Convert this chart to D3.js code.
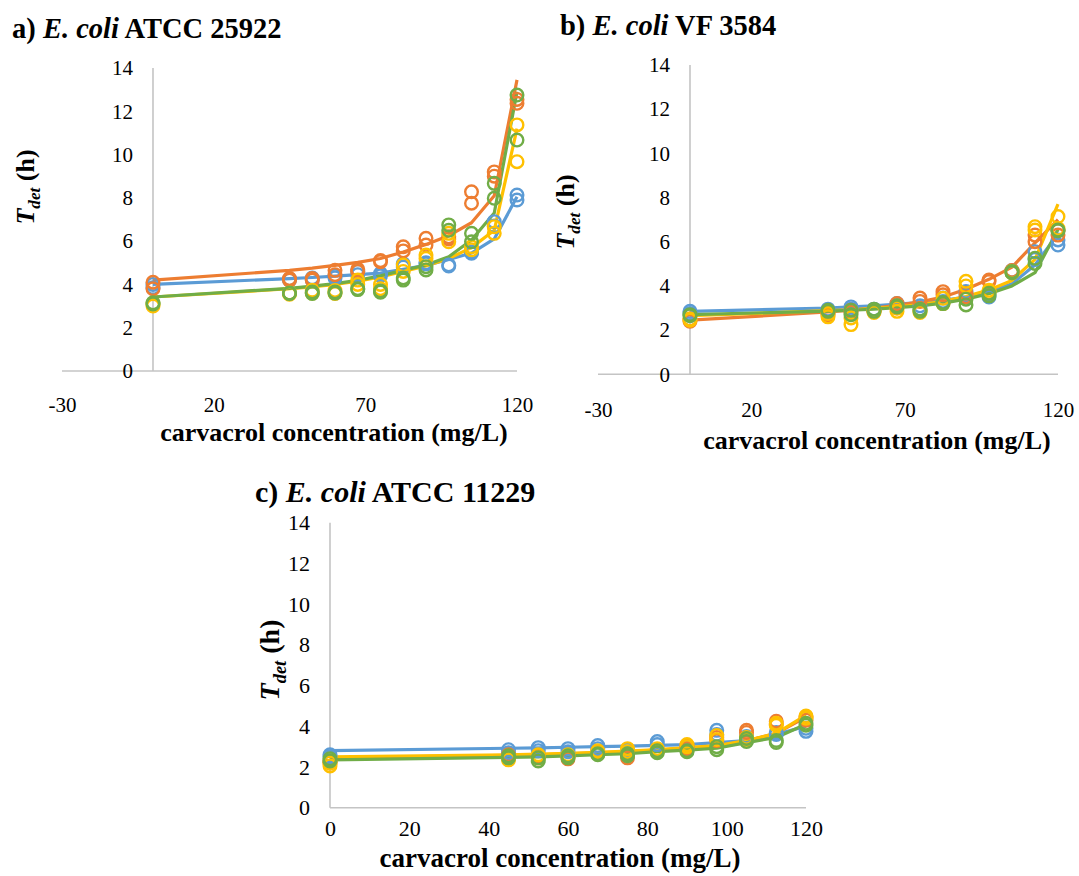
<!DOCTYPE html>
<html><head><meta charset="utf-8">
<script src="https://cdn.jsdelivr.net/npm/d3@7"></script>
<style>
html,body{margin:0;padding:0;background:#fff;}
svg{display:block;font-family:"Liberation Serif","Times New Roman",serif;}
svg text{font-family:"Liberation Serif","Times New Roman",serif !important;}
</style></head>
<body><svg id="chart" width="1079" height="876"></svg>
<script>
// ---------- DATA ----------
const concentrations = [0, 45, 52.5, 60, 67.5, 75, 82.5, 90, 97.5, 105, 112.5, 120];
const seriesColors = ["#5B9BD5", "#ED7D31", "#FFC000", "#70AD47"];
const xTicksAB = [-30, 20, 70, 120];
const xTicksC = [0, 20, 40, 60, 80, 100, 120];
const yTicks = [0, 2, 4, 6, 8, 10, 12, 14];

// Panel a) E. coli ATCC 25922 — fitted model lines
const fitA_blue   = [4.0, 4.27, 4.32, 4.38, 4.45, 4.52, 4.7, 4.88, 5.15, 5.45, 6.1, 8.05];
const fitA_orange = [4.2, 4.65, 4.75, 4.88, 5.02, 5.2, 5.5, 5.85, 6.25, 6.85, 8.1, 13.45];
const fitA_yellow = [3.42, 3.8, 3.88, 4.0, 4.15, 4.35, 4.6, 4.85, 5.2, 5.7, 6.5, 11.2];
const fitA_green  = [3.42, 3.82, 3.92, 4.04, 4.19, 4.4, 4.65, 4.9, 5.28, 6.05, 7.3, 12.9];
// Panel a) observations (two replicates)
const obsA_blue1   = [3.85, 4.2, 4.3, 4.4, 4.6, 4.5, 4.95, 5.0, 4.9, 5.44, 6.9, 8.13];
const obsA_blue2   = [4.0, 4.25, 4.2, 4.3, 4.45, 4.4, 4.8, 4.95, 4.85, 5.5, 6.7, 7.9];
const obsA_orange1 = [4.1, 4.27, 4.27, 4.65, 4.7, 5.05, 5.74, 6.13, 6.2, 8.28, 9.2, 12.55];
const obsA_orange2 = [3.8, 4.2, 4.2, 4.45, 4.6, 5.1, 5.55, 5.82, 6.1, 7.75, 9.0, 12.37];
const obsA_yellow1 = [3.0, 3.6, 3.73, 3.72, 4.2, 4.0, 4.9, 5.36, 6.36, 5.74, 6.67, 11.37];
const obsA_yellow2 = [3.1, 3.55, 3.6, 3.58, 4.0, 3.8, 4.6, 5.2, 5.97, 5.6, 6.36, 9.67];
const obsA_green1  = [3.1, 3.58, 3.58, 3.65, 3.76, 3.64, 4.2, 4.82, 6.75, 6.36, 8.67, 12.75];
const obsA_green2  = [3.15, 3.6, 3.65, 3.6, 3.8, 3.7, 4.3, 4.67, 6.5, 5.97, 7.98, 10.67];

// Panel b) E. coli VF 3584
const fitB_blue   = [2.85, 3.0, 3.05, 3.1, 3.18, 3.25, 3.35, 3.5, 3.72, 4.1, 4.95, 6.35];
const fitB_orange = [2.45, 2.82, 2.9, 3.0, 3.12, 3.28, 3.5, 3.85, 4.3, 4.85, 5.95, 7.0];
const fitB_yellow = [2.65, 2.88, 2.92, 2.98, 3.05, 3.15, 3.3, 3.52, 3.82, 4.25, 5.2, 7.7];
const fitB_green  = [2.7, 2.86, 2.9, 2.95, 3.02, 3.1, 3.22, 3.4, 3.65, 4.0, 4.6, 6.55];
const obsB_blue1   = [2.85, 2.9, 3.05, 2.9, 3.2, 2.95, 3.45, 3.75, 3.5, 4.7, 5.55, 6.08];
const obsB_blue2   = [2.75, 2.95, 2.95, 2.95, 3.1, 3.1, 3.3, 3.6, 3.6, 4.6, 5.2, 5.85];
const obsB_orange1 = [2.4, 2.8, 2.8, 2.9, 3.2, 3.45, 3.74, 3.67, 4.27, 4.65, 6.3, 6.5];
const obsB_orange2 = [2.5, 2.7, 2.9, 2.85, 3.0, 3.3, 3.6, 3.5, 4.2, 4.7, 6.0, 6.3];
const obsB_yellow1 = [2.5, 2.6, 2.25, 2.9, 2.85, 2.8, 3.2, 4.21, 3.8, 4.65, 6.68, 7.14];
const obsB_yellow2 = [2.45, 2.75, 2.55, 2.8, 3.0, 2.9, 3.44, 4.0, 3.7, 4.6, 6.53, 6.6];
const obsB_green1  = [2.7, 2.9, 2.7, 2.85, 3.05, 2.85, 3.2, 3.14, 3.67, 4.6, 5.02, 6.53];
const obsB_green2  = [2.65, 2.85, 2.9, 2.95, 3.1, 2.95, 3.25, 3.4, 3.55, 4.65, 5.25, 6.5];

// Panel c) E. coli ATCC 11229
const fitC_blue   = [2.8, 2.92, 2.94, 2.97, 3.0, 3.02, 3.06, 3.1, 3.2, 3.3, 3.6, 4.0];
const fitC_orange = [2.45, 2.57, 2.6, 2.64, 2.69, 2.75, 2.83, 2.92, 3.02, 3.28, 3.65, 4.45];
const fitC_yellow = [2.5, 2.6, 2.63, 2.67, 2.72, 2.78, 2.86, 2.95, 3.05, 3.3, 3.65, 4.55];
const fitC_green  = [2.35, 2.47, 2.5, 2.55, 2.6, 2.65, 2.75, 2.83, 2.92, 3.2, 3.45, 4.1];
const obsC_blue1   = [2.6, 2.85, 2.95, 2.9, 3.05, 2.85, 3.25, 3.0, 3.8, 3.5, 3.6, 3.75];
const obsC_blue2   = [2.5, 2.7, 2.8, 2.75, 2.9, 2.7, 3.1, 2.9, 3.6, 3.3, 3.7, 3.9];
const obsC_orange1 = [2.2, 2.45, 2.55, 2.4, 2.65, 2.45, 2.75, 3.05, 3.3, 3.8, 4.25, 4.45];
const obsC_orange2 = [2.3, 2.6, 2.45, 2.55, 2.75, 2.6, 2.85, 2.9, 3.45, 3.7, 4.1, 4.3];
const obsC_yellow1 = [2.05, 2.35, 2.6, 2.6, 2.7, 2.9, 2.8, 3.1, 3.55, 3.45, 4.15, 4.5];
const obsC_yellow2 = [2.2, 2.5, 2.45, 2.5, 2.8, 2.75, 2.9, 3.0, 3.35, 3.35, 4.05, 4.4];
const obsC_green1  = [2.3, 2.45, 2.3, 2.45, 2.6, 2.55, 2.7, 2.8, 2.85, 3.25, 3.2, 4.05];
const obsC_green2  = [2.4, 2.55, 2.45, 2.55, 2.65, 2.65, 2.8, 2.75, 3.0, 3.4, 3.3, 4.15];

// ---------- DRAW ----------
const svg = d3.select("#chart");
const FONT = '"Liberation Serif","Times New Roman",serif';

function drawPanel(p) {
  const x = d3.scaleLinear().domain(p.xDomain).range(p.xRange);
  const y = d3.scaleLinear().domain([0, 14]).range(p.yRange);
  const g = svg.append("g");

  g.append("line").attr("x1", x(p.xDomain[0])).attr("x2", x(p.xDomain[1]))
    .attr("y1", y(0)).attr("y2", y(0)).attr("stroke", "#c4c4c4").attr("stroke-width", 1.6);
  g.append("line").attr("x1", x(0)).attr("x2", x(0))
    .attr("y1", y(0)).attr("y2", y(14)).attr("stroke", "#c4c4c4").attr("stroke-width", 1.6);

  const ax = g.append("g").attr("transform", `translate(0,${y(0)})`)
    .call(d3.axisBottom(x).tickValues(p.xTicks).tickSize(0).tickPadding(p.xPad).tickFormat(d => String(d)));
  const ay = g.append("g").attr("transform", `translate(${x(0)},0)`)
    .call(d3.axisLeft(y).tickValues(yTicks).tickSize(0).tickPadding(p.yPad).tickFormat(d => String(d)));
  [ax, ay].forEach(a => {
    a.attr("font-family", FONT).attr("font-size", p.tickSize);
    a.select(".domain").remove();
    a.selectAll("text").style("font-family", FONT).style("font-size", p.tickSize + "px").attr("fill", "#000");
  });

  const line = d3.line().x((d, i) => x(concentrations[i])).y(d => y(d));
  p.fits.forEach((f, k) => {
    g.append("path").datum(f).attr("d", line).attr("fill", "none")
      .attr("stroke", seriesColors[k]).attr("stroke-width", 3.2).attr("stroke-linejoin", "round");
  });
  p.obs.forEach((reps, k) => {
    reps.forEach(r => {
      g.selectAll(null).data(r).enter().append("circle")
        .attr("cx", (d, i) => x(concentrations[i])).attr("cy", d => y(d))
        .attr("r", 6.3).attr("fill", "none").attr("stroke", seriesColors[k]).attr("stroke-width", 2.4);
    });
  });

  const t = g.append("text").attr("x", p.titleX).attr("y", p.titleY)
    .style("font-size", p.titleSize + "px").attr("font-weight", "bold");
  t.append("tspan").text(p.titleParts[0]);
  t.append("tspan").attr("font-style", "italic").text(p.titleParts[1]);
  t.append("tspan").text(p.titleParts[2]);

  g.append("text").attr("x", p.xTitleX).attr("y", p.xTitleY).attr("text-anchor", "middle")
    .style("font-size", p.axisTitleSize + "px").attr("font-weight", "bold")
    .text("carvacrol concentration (mg/L)");

  const ys = p.yTitleSize;
  const yt = g.append("text").attr("transform", `translate(${p.yTitleX},${p.yTitleY}) rotate(-90)`)
    .attr("text-anchor", "middle").style("font-size", ys + "px").attr("font-weight", "bold");
  yt.append("tspan").attr("font-style", "italic").text("T");
  yt.append("tspan").attr("font-style", "italic").style("font-size", (ys * 0.66) + "px").attr("dy", ys * 0.24).text("det");
  yt.append("tspan").attr("dy", -ys * 0.24).text(" (h)");
}

drawPanel({
  xDomain: [-30, 120], xRange: [62, 517], yRange: [371, 68], xTicks: xTicksAB, xPad: 26, yPad: 20,
  tickSize: 21, titleSize: 28.5, axisTitleSize: 26, yTitleSize: 26,
  fits: [fitA_blue, fitA_orange, fitA_yellow, fitA_green],
  obs: [[obsA_blue1, obsA_blue2], [obsA_orange1, obsA_orange2], [obsA_yellow1, obsA_yellow2], [obsA_green1, obsA_green2]],
  titleParts: ["a) ", "E. coli", " ATCC 25922"], titleX: 12, titleY: 38,
  xTitleX: 334, xTitleY: 441, yTitleX: 34, yTitleY: 187
});
drawPanel({
  xDomain: [-30, 120], xRange: [598, 1058], yRange: [374.3, 65], xTicks: xTicksAB, xPad: 28, yPad: 20,
  tickSize: 21, titleSize: 28.5, axisTitleSize: 26, yTitleSize: 26,
  fits: [fitB_blue, fitB_orange, fitB_yellow, fitB_green],
  obs: [[obsB_blue1, obsB_blue2], [obsB_orange1, obsB_orange2], [obsB_yellow1, obsB_yellow2], [obsB_green1, obsB_green2]],
  titleParts: ["b) ", "E. coli", " VF 3584"], titleX: 560, titleY: 35,
  xTitleX: 877, xTitleY: 449, yTitleX: 574, yTitleY: 212
});
drawPanel({
  xDomain: [0, 120], xRange: [330, 806], yRange: [807.7, 522.7], xTicks: xTicksC, xPad: 13, yPad: 20,
  tickSize: 22, titleSize: 30, axisTitleSize: 27, yTitleSize: 28,
  fits: [fitC_blue, fitC_orange, fitC_yellow, fitC_green],
  obs: [[obsC_blue1, obsC_blue2], [obsC_orange1, obsC_orange2], [obsC_yellow1, obsC_yellow2], [obsC_green1, obsC_green2]],
  titleParts: ["c) ", "E. coli", " ATCC 11229"], titleX: 255, titleY: 502,
  xTitleX: 560, xTitleY: 867, yTitleX: 279, yTitleY: 660
});
</script></body></html>
